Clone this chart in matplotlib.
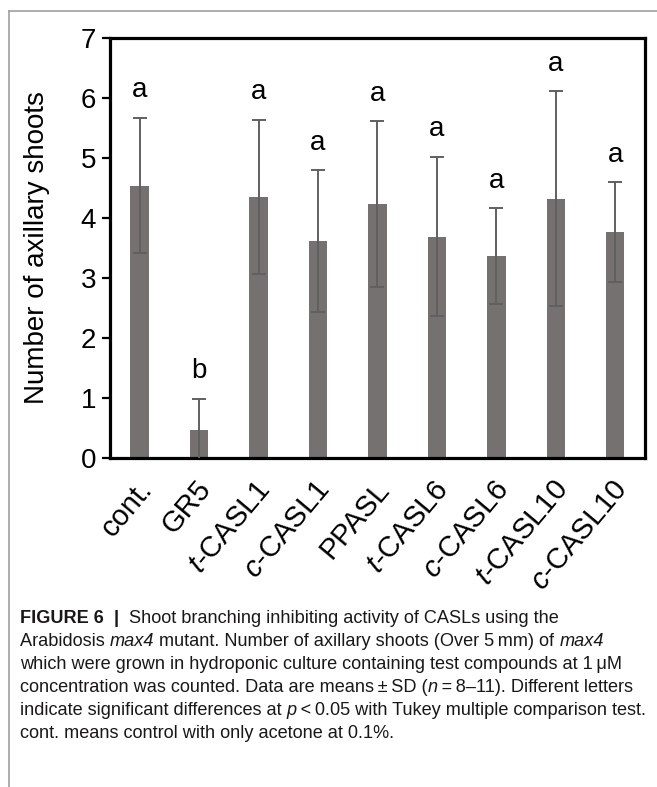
import matplotlib
matplotlib.use("Agg")
import matplotlib.pyplot as plt
from matplotlib import font_manager
from matplotlib.font_manager import FontProperties
from matplotlib.lines import Line2D
import matplotlib.transforms as mtransforms

# datos
grupos = ["cont.", "GR5", r"$\it{t}$-CASL1", r"$\it{c}$-CASL1", "PPASL",
          r"$\it{t}$-CASL6", r"$\it{c}$-CASL6", r"$\it{t}$-CASL10", r"$\it{c}$-CASL10"]
medias = [4.54, 0.46, 4.35, 3.62, 4.23, 3.69, 3.36, 4.32, 3.77]
desv = [1.13, 0.53, 1.29, 1.18, 1.38, 1.33, 0.80, 1.79, 0.83]
letras = ["a", "b", "a", "a", "a", "a", "a", "a", "a"]

# leyenda: (texto, estilo, peso)
N, I, B = ("normal", "normal"), ("italic", "normal"), ("normal", "bold")
leyenda = [
    [("FIGURE 6", B), ("  |  ", B), ("Shoot branching inhibiting activity of CASLs using the", N)],
    [("Arabidosis ", N), ("max4", I), (" mutant. Number of axillary shoots (Over 5\u2009mm) of ", N), ("max4", I)],
    [("which were grown in hydroponic culture containing test compounds at 1\u2009\u03bcM", N)],
    [("concentration was counted. Data are means\u2009\u00b1\u2009SD (", N), ("n", I),
     ("\u2009=\u20098\u201311). Different letters", N)],
    [("indicate significant differences at ", N), ("p", I),
     ("\u2009<\u20090.05 with Tukey multiple comparison test.", N)],
    [("cont. means control with only acetone at 0.1%.", N)],
]

try:
    font_manager.findfont("Liberation Sans Narrow", fallback_to_default=False)
    fuente_ley = "Liberation Sans Narrow"
except Exception:
    fuente_ley = "Liberation Sans"

plt.rcParams["font.family"] = ["Liberation Sans", "DejaVu Sans"]
plt.rcParams["mathtext.fontset"] = "custom"
plt.rcParams["mathtext.rm"] = "Liberation Sans"
plt.rcParams["mathtext.it"] = "Liberation Sans:italic"

fig = plt.figure(figsize=(6.57, 7.87), dpi=100)
ax = fig.add_axes([0.1674, 0.418, 0.8143, 0.5337])

x = range(len(grupos))
ax.bar(x, medias, width=0.31, color="#767171", zorder=2)
ax.errorbar(x, medias, yerr=desv, fmt="none", ecolor="#606060", elinewidth=1.4,
            capsize=5, capthick=1.4, zorder=3)

for i in x:
    ax.text(i, medias[i] + desv[i] + 0.34, letras[i], ha="center", va="baseline",
            fontsize=20, color="black")

ax.set_xlim(-0.5, 8.5)
ax.set_ylim(0, 7)
ax.set_yticks(range(0, 8))
ax.tick_params(axis="y", labelsize=20, length=6, width=1.6, pad=4)
ax.tick_params(axis="x", length=0, pad=19)
ax.set_xticks(list(x))
ax.set_xticklabels(grupos, rotation=50, ha="right", va="center",
                   rotation_mode="anchor", fontsize=21)
desplaz = mtransforms.ScaledTranslation(7 / 100, 0, fig.dpi_scale_trans)
for lab in ax.get_xticklabels():
    lab.set_transform(lab.get_transform() + desplaz)

for s in ax.spines.values():
    s.set_linewidth(2.3)
    s.set_color("black")

ax.set_ylabel("Number of axillary shoots", fontsize=20)
ax.yaxis.set_label_coords(-0.113, 0.5)

# recuadro gris de la figura
fig.add_artist(Line2D([9 / 657, 9 / 657], [0, 1 - 11 / 787], transform=fig.transFigure,
                      color="#a0a0a0", lw=1.2))
fig.add_artist(Line2D([9 / 657, 1], [1 - 11 / 787, 1 - 11 / 787], transform=fig.transFigure,
                      color="#a0a0a0", lw=1.2))

renderer = fig.canvas.get_renderer()


def ancho(texto, estilo, size):
    prop = FontProperties(family=[fuente_ley, "DejaVu Sans"], style=estilo[0],
                          weight=estilo[1], size=size)
    w1, _, _ = renderer.get_text_width_height_descent("X" + texto + "X", prop, ismath=False)
    w0, _, _ = renderer.get_text_width_height_descent("XX", prop, ismath=False)
    return w1 - w0


# tamaño de la leyenda ajustado a su linea mas larga (20 a 648 px)
w_ref = sum(ancho(t, e, 10) for t, e in leyenda[4])
tam_ley = 10 * 628 / w_ref

y0 = 623
for k, linea in enumerate(leyenda):
    xp = 20.0
    for texto, estilo in linea:
        fig.text(xp / 657, 1 - (y0 + 23 * k) / 787, texto, fontsize=tam_ley,
                 family=[fuente_ley, "DejaVu Sans"], style=estilo[0], weight=estilo[1],
                 color="#1a1718", va="baseline", ha="left")
        xp += ancho(texto, estilo, tam_ley)

fig.savefig("out.png", dpi=100)
